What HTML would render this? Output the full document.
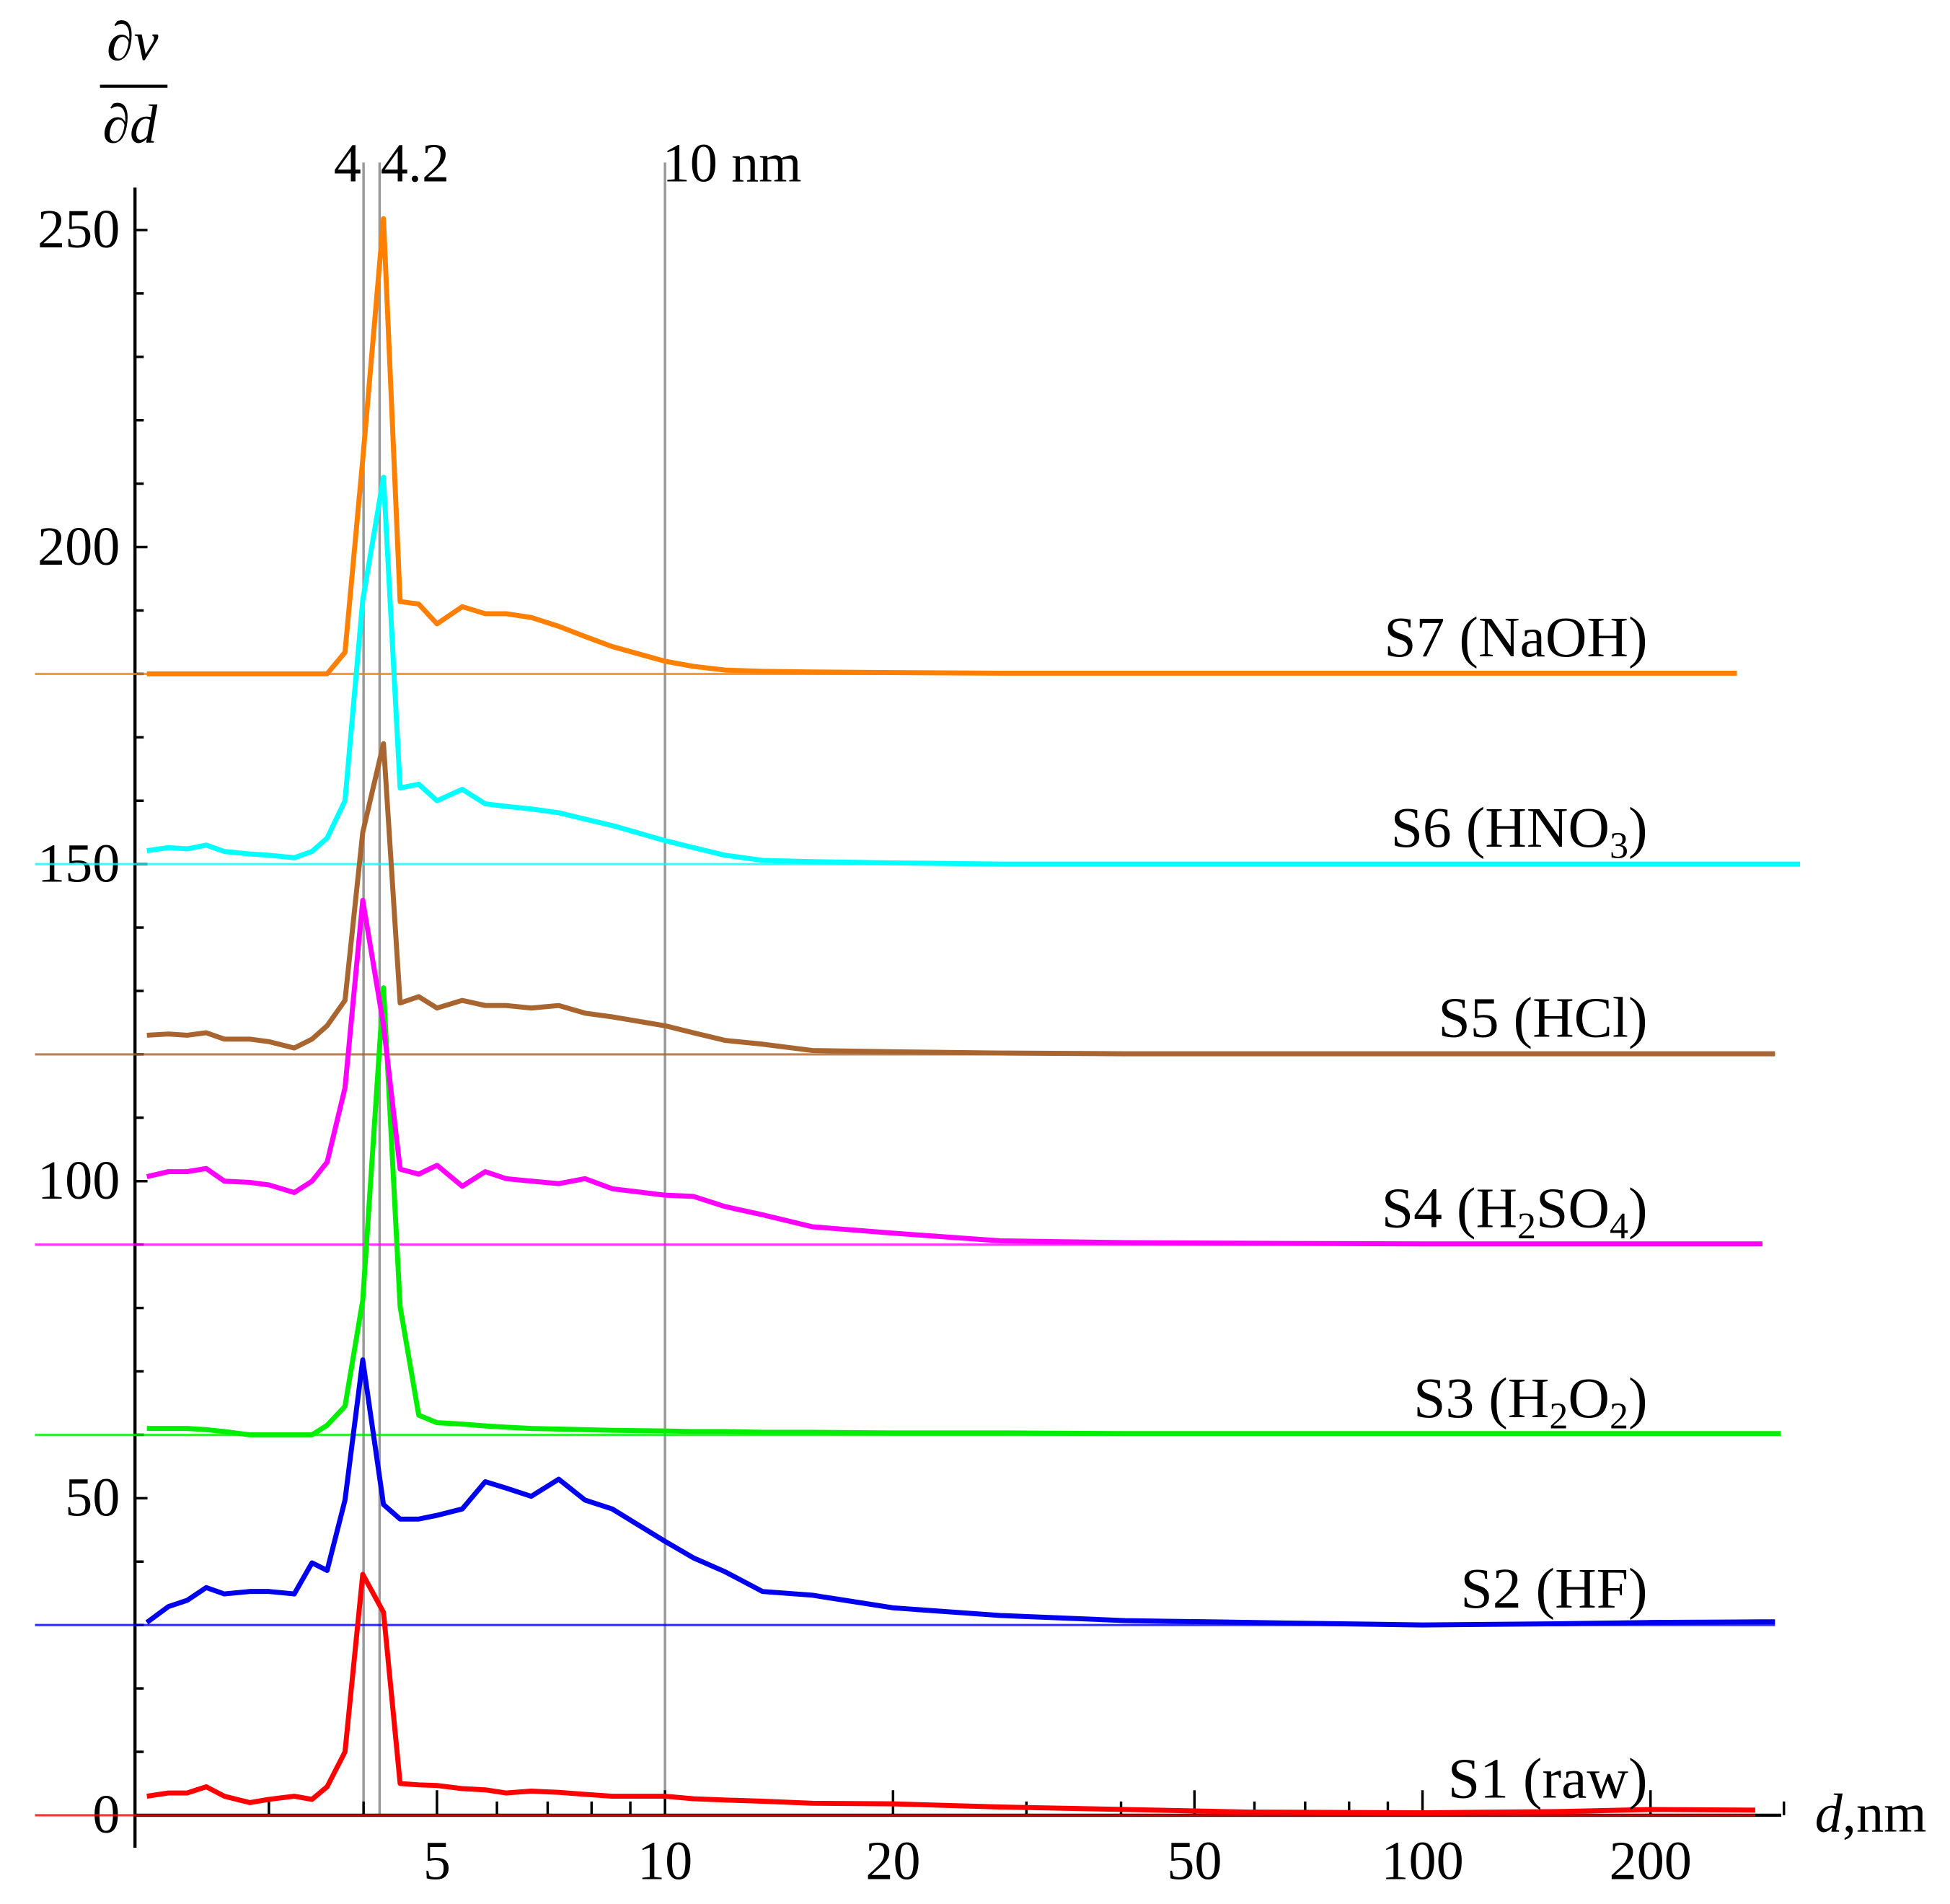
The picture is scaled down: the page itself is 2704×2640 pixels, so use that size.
<!DOCTYPE html>
<html><head><meta charset="utf-8">
<style>
html,body{margin:0;padding:0;background:#fff;}
svg{display:block;}
text{font-family:"Liberation Serif",serif;fill:#000;}
</style></head>
<body>
<svg id="chart" xmlns="http://www.w3.org/2000/svg" width="2704" height="2640" viewBox="0 0 1560 1523" preserveAspectRatio="none">
<g id="grid"></g>
<g id="axes"></g>
<g id="series"></g>
<g id="labels"></g>
<g>
<text x="106" y="48" font-size="44" font-style="italic" text-anchor="middle">∂v</text>
<line x1="80" y1="69" x2="134" y2="69" stroke="#000" stroke-width="2.5"/>
<text x="104" y="114" font-size="44" font-style="italic" text-anchor="middle">∂d</text>
</g>
<g>
<text x="1452" y="1465" font-size="44"><tspan font-style="italic">d</tspan>,nm</text>
</g>
</svg>
<script>
const diameters = [2.07,2.21,2.34,2.48,2.62,2.83,3.0,3.24,3.42,3.58,3.78,3.99,4.25,4.47,4.73,5.0,5.4,5.79,6.17,6.66,7.24,7.84,8.52,10,10.9,12.0,13.45,15.65,20,27.7,40.5,59.2,100,153,200,281];
const s1 = [3,3.5,3.5,4.5,3,2,2.5,3,2.5,4.5,10,38,32,5,4.8,4.7,4.2,4,3.5,3.8,3.6,3.3,3,3,2.6,2.4,2.2,1.9,1.8,1.3,0.9,0.5,0.4,0.6,0.9,0.8];
const s2 = [0.4,2.9,3.9,5.9,4.9,5.3,5.3,4.9,9.8,8.6,19.7,41.8,19,16.7,16.7,17.3,18.3,22.6,21.6,20.3,23,19.7,18.3,13.2,10.6,8.4,5.3,4.7,2.7,1.5,0.7,0.4,0,0.2,0.4,0.5];
const s3 = [1,1,1,0.8,0.5,0,0,0,0,1.5,4.5,21.2,70.5,20.2,3.1,1.9,1.7,1.4,1.2,1,0.9,0.8,0.7,0.6,0.5,0.5,0.4,0.4,0.3,0.3,0.2,0.2,0.2,0.2,0.2,0.2];
const s4 = [10.7,11.5,11.5,12,10,9.8,9.4,8.2,10,13,24.7,54.3,34.6,11.9,11.1,12.5,9.2,11.5,10.4,10,9.6,10.4,8.8,7.8,7.6,6,4.7,2.8,1.8,0.6,0.3,0.2,0.1,0.1,0.1,0.1];
const s5 = [3,3.2,3,3.4,2.4,2.4,2,1,2.4,4.5,8.5,35,49,8.1,9.1,7.3,8.5,7.7,7.7,7.3,7.7,6.5,5.9,4.5,3.4,2.2,1.6,0.6,0.4,0.2,0.1,0.1,0.1,0.1,0.1,0.1];
const s6 = [2.1,2.6,2.4,3,2,1.6,1.4,1,2,4.1,10,41.6,61,12,12.6,10,11.8,9.5,9.1,8.7,8.1,7.1,6.1,3.7,2.6,1.4,0.6,0.4,0.2,0,0,0,0,0,0,0];
const s7 = [0,0,0,0,0,0,0,0,0,0,3.4,33.8,71.8,11.4,11,7.9,10.6,9.5,9.5,8.9,7.5,5.9,4.3,2,1.2,0.6,0.4,0.3,0.2,0.1,0.1,0.1,0.1,0.1,0.1,0.1];
const seriesNames = ["S1 (raw)","S2 (HF)","S3 (H2O2)","S4 (H2SO4)","S5 (HCl)","S6 (HNO3)","S7 (NaOH)"];
const offsets = [0,30,60,90,120,150,180];
const colors = ["#ff0000","#0000ee","#00ee00","#ff00ff","#a8652f","#00ffff","#ff8000"];
const lineEnds = [275,292,297,281,292,315,260];
const yTicksMajor = [0,50,100,150,200,250];
const xTickLabels = [5,10,20,50,100,200];
const xMinorTicks = [3,4,6,7,8,9,30,40,60,70,80,90,300];
const refLines = [4,4.2,10];

const NS="http://www.w3.org/2000/svg";
function X(d){return 532+606*Math.log10(d/10);}
function Y(v){return 1452-v*5.072;}
function mk(tag,attrs,parent){const e=document.createElementNS(NS,tag);for(const k in attrs)e.setAttribute(k,attrs[k]);parent.appendChild(e);return e;}
const grid=document.getElementById('grid'),axes=document.getElementById('axes'),sg=document.getElementById('series'),lg=document.getElementById('labels');

refLines.forEach(function(d){
  const l=mk('line',{x1:X(d),x2:X(d),y1:130,y2:1452,stroke:'#999','stroke-width':2},grid);
  
  
});
let t=mk('text',{x:278,y:145,'font-size':44,'text-anchor':'middle'},grid);t.textContent='4';

t=mk('text',{x:332,y:145,'font-size':44,'text-anchor':'middle'},grid);t.textContent='4.2';

t=mk('text',{x:530,y:145,'font-size':44},grid);t.textContent='10 nm';


offsets.forEach(function(o,i){
  const l=mk('line',{x1:28,x2:X(lineEnds[i]),y1:Y(o),y2:Y(o),stroke:colors[i],'stroke-width':1.8,opacity:0.8},sg);
  
  
});
let a=mk('line',{x1:108,x2:108,y1:150,y2:1478,stroke:'#000','stroke-width':2.5},axes);

a=mk('line',{x1:108,x2:1425,y1:1452,y2:1452,stroke:'#000','stroke-width':2.5},axes);

for(let v=0;v<=250;v+=10){
  const major=v%50===0;
  const tk=mk('line',{x1:108,x2:major?118:115,y1:Y(v),y2:Y(v),stroke:'#000','stroke-width':2},axes);
  
}
yTicksMajor.forEach(function(v){
  const tx=mk('text',{x:96,y:Y(v)+14,'font-size':44,'text-anchor':'end'},axes);
  tx.textContent=v;
  
});
xTickLabels.forEach(function(d){
  const tk=mk('line',{x1:X(d),x2:X(d),y1:1452,y2:1432,stroke:'#000','stroke-width':2},axes);
  
  const tx=mk('text',{x:X(d),y:1503,'font-size':44,'text-anchor':'middle'},axes);
  tx.textContent=d;
  
});
xMinorTicks.forEach(function(d){
  const tk=mk('line',{x1:X(d),x2:X(d),y1:1452,y2:1441,stroke:'#000','stroke-width':2},axes);
  
});
const allSeries=[s1,s2,s3,s4,s5,s6,s7];
allSeries.forEach(function(vals,i){
  const pts=[];
  for(let k=0;k<diameters.length;k++){ if(diameters[k]<=lineEnds[i]) pts.push(X(diameters[k]).toFixed(1)+','+Y(vals[k]+offsets[i]).toFixed(1)); }
  const last=vals[vals.length-1];
  pts.push(X(lineEnds[i]).toFixed(1)+','+Y(last+offsets[i]).toFixed(1));
  const p=mk('polyline',{points:pts.join(' '),fill:'none',stroke:colors[i],'stroke-width':4,'stroke-linejoin':'round'},sg);
  
  
});
const labelHtml=['S1 (raw)','S2 (HF)','S3 (H<tspan font-size="30" dy="9">2</tspan><tspan dy="-9">O</tspan><tspan font-size="30" dy="9">2</tspan><tspan dy="-9">)</tspan>','S4 (H<tspan font-size="30" dy="9">2</tspan><tspan dy="-9">SO</tspan><tspan font-size="30" dy="9">4</tspan><tspan dy="-9">)</tspan>','S5 (HCl)','S6 (HNO<tspan font-size="30" dy="9">3</tspan><tspan dy="-9">)</tspan>','S7 (NaOH)'];
offsets.forEach(function(o,i){
  const tx=mk('text',{x:1318,y:Y(o)-14,'font-size':46,'text-anchor':'end'},lg);
  tx.innerHTML=labelHtml[i];
  
  
});
</script>
</body></html>
